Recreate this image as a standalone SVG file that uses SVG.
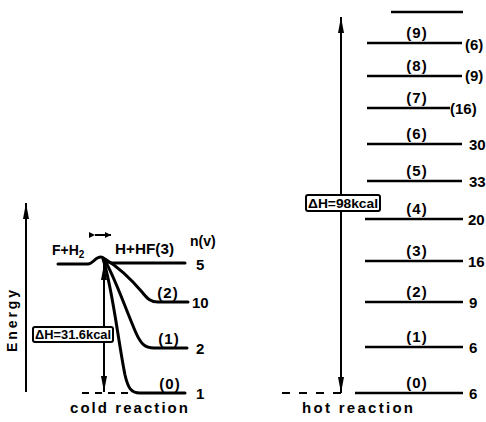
<svg xmlns="http://www.w3.org/2000/svg" width="486" height="422" viewBox="0 0 486 422">
  <style>
    .t { font-family: "Liberation Sans", Arial, sans-serif; font-weight: bold; fill: #000; }
    .lbl { font-size: 15px; text-anchor: middle; letter-spacing: 1px; }
    .num { font-size: 15px; }
    .lvl { stroke: #000; stroke-width: 2.5; fill: none; }
    .curve { stroke: #000; stroke-width: 3; fill: none; stroke-linecap: round; }
    .axis { stroke: #000; stroke-width: 2; fill: none; }
    .dash { stroke: #000; stroke-width: 2; fill: none; }
    .box { fill: #fff; stroke: #000; stroke-width: 2; }
    .boxtxt { font-size: 12px; }
  </style>
  <defs>
    <marker id="headL" viewBox="0 0 16 8" refX="16" refY="4" markerWidth="16" markerHeight="8" orient="auto" markerUnits="userSpaceOnUse">
      <path d="M0,1 L16,4 L0,7 Z" fill="#000"/>
    </marker>
    <marker id="headS" viewBox="0 0 6 6" refX="6" refY="3" markerWidth="6" markerHeight="6" orient="auto" markerUnits="userSpaceOnUse">
      <path d="M0,0 L6,3 L0,6 Z" fill="#000"/>
    </marker>
  </defs>

  <!-- cold reaction: F + H2 -> H + HF -->
  <g id="cold-axis">
    <line class="axis" x1="26" y1="392" x2="26" y2="203" marker-end="url(#headL)"/>
    <text class="t" font-size="14" transform="translate(17,321) rotate(-90)" text-anchor="middle" textLength="62" lengthAdjust="spacing">Energy</text>
  </g>

  <g id="cold-levels">
    <path class="curve" d="M58,264 L88,264 C93,264 95,257 101,257 C105,257 106,263 112,263 L185,263"/>
    <path class="curve" d="M105,259 C120,268 130,278 142,292 C147,298 150,302 158,302 L188,302"/>
    <path class="curve" d="M104,259 C114,275 124,305 136,333 C141,344 145,348 154,348 L187,348"/>
    <path class="curve" d="M103,259 C112,285 118,340 125,375 C128,388 131,393 140,393 L185,393"/>
    <path class="dash" d="M82,393 L133,393" stroke-dasharray="7 6"/>
  </g>

  <g id="cold-labels">
    <text class="t" font-size="14" x="52" y="255">F+H<tspan font-size="10" dy="3">2</tspan></text>
    <text class="t" font-size="14" x="115" y="254" textLength="59" lengthAdjust="spacingAndGlyphs">H+HF(3)</text>
    <text class="t" font-size="14" x="190" y="246">n(v)</text>
    <text class="t lbl" x="168" y="298">(2)</text>
    <text class="t lbl" x="169" y="344">(1)</text>
    <text class="t lbl" x="170" y="389">(0)</text>
    <text class="t num" x="196" y="270">5</text>
    <text class="t num" x="192" y="308">10</text>
    <text class="t num" x="196" y="354">2</text>
    <text class="t num" x="196" y="399">1</text>
    <text class="t" font-size="15" x="70" y="413" textLength="118" lengthAdjust="spacing">cold reaction</text>
  </g>

  <g id="cold-dH">
    <line class="axis" x1="95" y1="235" x2="111" y2="235" marker-start="url(#headS)" marker-end="url(#headS)"/>
    <line class="axis" x1="104" y1="327" x2="104" y2="264" marker-end="url(#headL)"/>
    <line class="axis" x1="104" y1="342" x2="104" y2="392" marker-end="url(#headL)"/>
    <rect class="box" x="33" y="327" width="80" height="15" rx="2"/>
    <text class="t boxtxt" x="35" y="339" textLength="76" lengthAdjust="spacingAndGlyphs">ΔH=31.6kcal</text>
  </g>

  <!-- hot reaction: H + F2 -> F + HF -->
  <g id="hot-dH">
    <line class="axis" x1="341" y1="195" x2="341" y2="17" marker-end="url(#headL)"/>
    <line class="axis" x1="341" y1="211" x2="341" y2="393" marker-end="url(#headL)"/>
    <rect class="box" x="306" y="195" width="74" height="16" rx="2"/>
    <text class="t boxtxt" x="308" y="208" textLength="70" lengthAdjust="spacingAndGlyphs">ΔH=98kcal</text>
  </g>

  <g id="hot-levels">
    <line class="lvl" x1="391" y1="12" x2="463" y2="12"/>
    <line class="lvl" x1="367" y1="43" x2="462" y2="43"/>
    <line class="lvl" x1="367" y1="76" x2="462" y2="76"/>
    <line class="lvl" x1="367" y1="108" x2="450" y2="108"/>
    <line class="lvl" x1="367" y1="144" x2="462" y2="144"/>
    <line class="lvl" x1="367" y1="181" x2="462" y2="181"/>
    <line class="lvl" x1="365" y1="219" x2="463" y2="219"/>
    <line class="lvl" x1="365" y1="261" x2="463" y2="261"/>
    <line class="lvl" x1="365" y1="302" x2="463" y2="302"/>
    <line class="lvl" x1="365" y1="347" x2="463" y2="347"/>
    <line class="lvl" x1="355" y1="393" x2="463" y2="393"/>
    <path class="dash" d="M282,393 L350,393" stroke-dasharray="8 9"/>
  </g>

  <g id="hot-labels">
    <text class="t lbl" x="417" y="38">(9)</text>
    <text class="t lbl" x="417" y="71">(8)</text>
    <text class="t lbl" x="417" y="103">(7)</text>
    <text class="t lbl" x="417" y="139">(6)</text>
    <text class="t lbl" x="417" y="176">(5)</text>
    <text class="t lbl" x="417" y="214">(4)</text>
    <text class="t lbl" x="417" y="256">(3)</text>
    <text class="t lbl" x="417" y="297">(2)</text>
    <text class="t lbl" x="417" y="342">(1)</text>
    <text class="t lbl" x="417" y="388">(0)</text>
    <text class="t num" x="465" y="50">(6)</text>
    <text class="t num" x="465" y="81">(9)</text>
    <text class="t num" x="450" y="114">(16)</text>
    <text class="t num" x="469" y="150">30</text>
    <text class="t num" x="469" y="187">33</text>
    <text class="t num" x="468" y="225">20</text>
    <text class="t num" x="468" y="267">16</text>
    <text class="t num" x="469" y="308">9</text>
    <text class="t num" x="469" y="353">6</text>
    <text class="t num" x="469" y="399">6</text>
    <text class="t" font-size="15" x="302" y="413" textLength="111" lengthAdjust="spacing">hot reaction</text>
  </g>
</svg>
